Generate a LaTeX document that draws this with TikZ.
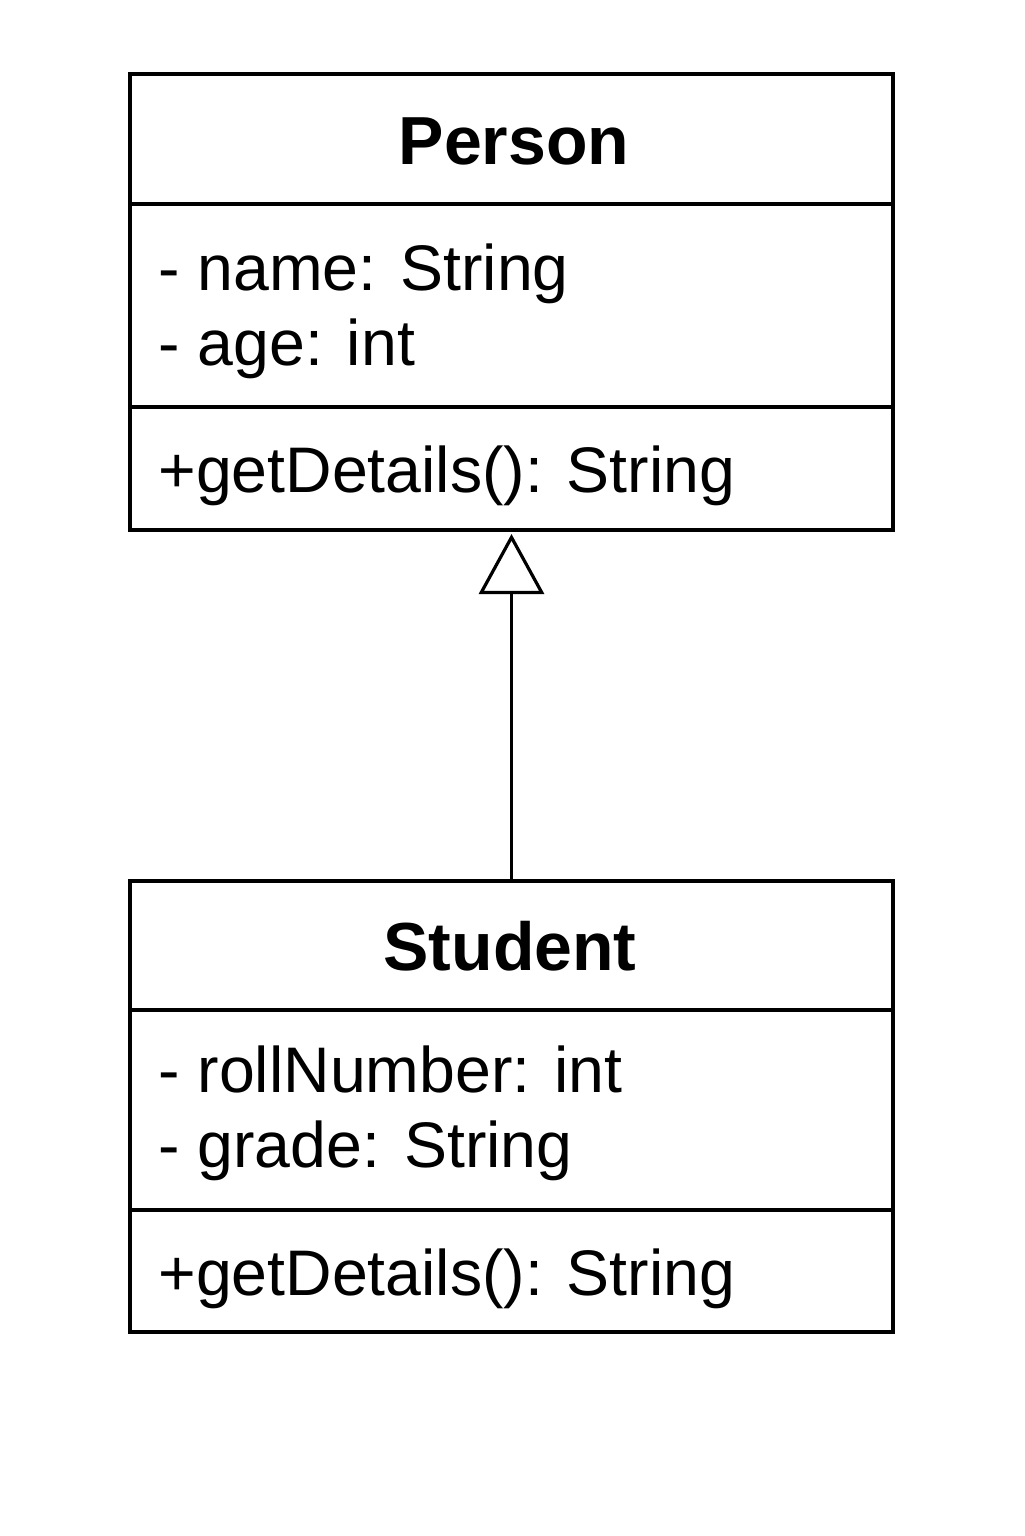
\documentclass[tikz,border=0pt]{standalone}
\usepackage{fontspec}
\setmainfont{Liberation Sans}
\usetikzlibrary{arrows.meta}
\begin{document}
\begin{tikzpicture}[x=0.5pt,y=-0.5pt,
  umlbox/.style={draw, line width=1.6pt, anchor=north west, minimum width=381.5pt, inner sep=0pt, outer sep=0pt},
  divider/.style={line width=1.6pt},
  titletext/.style={anchor=base, font=\fontsize{34pt}{40pt}\selectfont\bfseries, inner sep=0pt},
  membertext/.style={anchor=base west, font=\fontsize{32.2pt}{39pt}\selectfont, inner sep=0pt},
  inherit/.style={line width=1.6pt, -{Triangle[open, length=30pt, width=32.5pt, line width=1.6pt]}, shorten >=2pt}
]
\useasboundingbox (0,0) rectangle (1024,1536);
% Person
\node[umlbox, minimum height=228pt] (person) at (130,74) {};
\draw[divider] (person.west |- 0,204) -- (person.east |- 0,204);
\draw[divider] (person.west |- 0,407) -- (person.east |- 0,407);
\node[titletext] (ptitle) at (514,164) {Person};
\node[membertext] (pname) at (158,290) {- name: String};
\node[membertext] (page) at (158,365) {- age: int};
\node[membertext] (pop) at (158,492) {+getDetails(): String};
% Student
\node[umlbox, minimum height=225.5pt] (student) at (130,881) {};
\draw[divider] (student.west |- 0,1010) -- (student.east |- 0,1010);
\draw[divider] (student.west |- 0,1210) -- (student.east |- 0,1210);
\node[titletext] (stitle) at (510,970) {Student};
\node[membertext] (sroll) at (158,1092) {- rollNumber: int};
\node[membertext] (sgrade) at (158,1167) {- grade: String};
\node[membertext] (sop) at (158,1295) {+getDetails(): String};
% Generalization
\draw[inherit] (student.north) -- (person.south);
\end{tikzpicture}
\end{document}
